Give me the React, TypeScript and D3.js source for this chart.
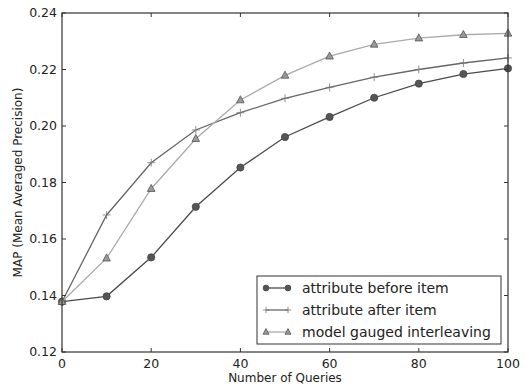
import React from "react";
import * as d3 from "d3";

const queries = [0, 10, 20, 30, 40, 50, 60, 70, 80, 90, 100];
const beforeItem = [0.1378, 0.1397, 0.1535, 0.1714, 0.1853, 0.1961, 0.2032, 0.21, 0.215, 0.2184, 0.2204];
const afterItem = [0.1378, 0.1685, 0.187, 0.1986, 0.2047, 0.2098, 0.2137, 0.2173, 0.22, 0.2223, 0.2241];
const interleaving = [0.1378, 0.1532, 0.1778, 0.1955, 0.2092, 0.2179, 0.2247, 0.2289, 0.2311, 0.2323, 0.2328];
const xTicks = [0, 20, 40, 60, 80, 100];
const yTicks = [0.12, 0.14, 0.16, 0.18, 0.2, 0.22, 0.24];

const W = 525;
const H = 386;
const m = { left: 62, right: 17, top: 13, bottom: 34 };
const FONT = "DejaVu Sans, sans-serif";

const series = [
  { name: "attribute before item", values: beforeItem, line: "#4a4a4a", marker: "circle", fill: "#555", stroke: "#444" },
  { name: "attribute after item", values: afterItem, line: "#666", marker: "plus", fill: "none", stroke: "#777" },
  { name: "model gauged interleaving", values: interleaving, line: "#aaa", marker: "triangle", fill: "#999", stroke: "#555" },
];

function Marker({ kind, x, y, fill, stroke, s = 1 }: { kind: string; x: number; y: number; fill: string; stroke: string; s?: number }) {
  if (kind === "circle") return <circle cx={x} cy={y} r={3.6 * s} fill={fill} stroke={stroke} strokeWidth={0.8} />;
  if (kind === "plus")
    return (
      <path d={`M${x - 4 * s},${y}H${x + 4 * s}M${x},${y - 4 * s}V${y + 4 * s}`} stroke={stroke} strokeWidth={0.8} fill="none" />
    );
  return (
    <path
      d={`M${x},${y - 4.3 * s}L${x + 3.8 * s},${y + 2.8 * s}L${x - 3.8 * s},${y + 2.8 * s}Z`}
      fill={fill}
      stroke={stroke}
      strokeWidth={0.8}
    />
  );
}

export default function App() {
  const x = d3.scaleLinear().domain([0, 100]).range([m.left, W - m.right]);
  const y = d3.scaleLinear().domain([0.12, 0.24]).range([H - m.bottom, m.top]);
  const line = d3
    .line<number>()
    .x((_, i) => x(queries[i]))
    .y((d) => y(d));
  const x0 = m.left, x1 = W - m.right, y0 = H - m.bottom, y1 = m.top;
  const tk = 4;

  const lg = { x: 257, y: 276, w: 244, h: 68 };

  return (
    <svg width={W} height={H} style={{ position: "absolute", left: 0, top: 0 }} fontFamily={FONT}>
      <rect width={W} height={H} fill="#fff" />
      {series.map((s) => (
        <g key={s.name}>
          <path d={line(s.values) || ""} fill="none" stroke={s.line} strokeWidth={1.3} />
          {s.values.map((v, i) => (
            <Marker key={i} kind={s.marker} x={x(queries[i])} y={y(v)} fill={s.fill} stroke={s.stroke} />
          ))}
        </g>
      ))}
      <rect x={x0} y={y1} width={x1 - x0} height={y0 - y1} fill="none" stroke="#333" strokeWidth={1.2} />
      {xTicks.map((t) => (
        <g key={t}>
          <line x1={x(t)} x2={x(t)} y1={y0} y2={y0 - tk} stroke="#333" />
          <line x1={x(t)} x2={x(t)} y1={y1} y2={y1 + tk} stroke="#333" />
          <text x={x(t)} y={y0 + 16} fontSize={12.5} textAnchor="middle" fill="#222">
            {t}
          </text>
        </g>
      ))}
      {yTicks.map((t) => (
        <g key={t}>
          <line x1={x0} x2={x0 + tk} y1={y(t)} y2={y(t)} stroke="#333" />
          <line x1={x1} x2={x1 - tk} y1={y(t)} y2={y(t)} stroke="#333" />
          <text x={x0 - 5} y={y(t)} dy="0.35em" fontSize={12.5} textAnchor="end" fill="#222">
            {t.toFixed(2)}
          </text>
        </g>
      ))}
      <text x={(x0 + x1) / 2} y={H - 4} fontSize={12} textAnchor="middle" fill="#222">
        Number of Queries
      </text>
      <text
        transform={`translate(${22},${(y0 + y1) / 2}) rotate(-90)`}
        fontSize={12}
        textAnchor="middle"
        fill="#222"
      >
        MAP (Mean Averaged Precision)
      </text>
      <rect x={lg.x} y={lg.y} width={lg.w} height={lg.h} fill="#fff" stroke="#333" strokeWidth={1} />
      {series.map((s, i) => {
        const ly = lg.y + 12 + i * 22;
        return (
          <g key={s.name}>
            <line x1={lg.x + 9} x2={lg.x + 31} y1={ly} y2={ly} stroke={s.line} strokeWidth={1.3} />
            <Marker kind={s.marker} x={lg.x + 9} y={ly} fill={s.fill} stroke={s.stroke} s={0.8} />
            <Marker kind={s.marker} x={lg.x + 31} y={ly} fill={s.fill} stroke={s.stroke} s={0.8} />
            <text x={lg.x + 45} y={ly} dy="0.35em" fontSize={14} fill="#222">
              {s.name}
            </text>
          </g>
        );
      })}
    </svg>
  );
}
